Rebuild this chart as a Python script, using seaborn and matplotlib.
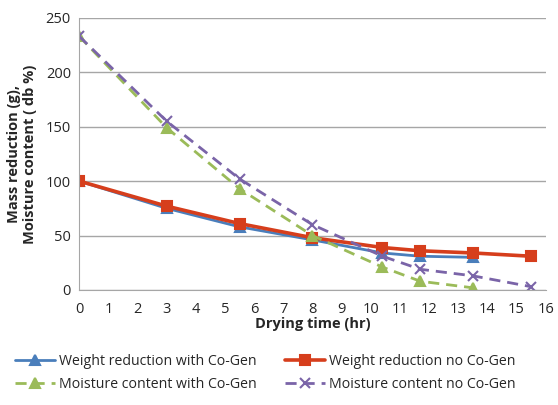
import numpy as np
import matplotlib.pyplot as plt
import pandas as pd
import seaborn as sns

# drying time (hr) and values
t_with = [0, 3, 5.5, 8, 10.4, 11.7, 13.5]
t_no = [0, 3, 5.5, 8, 10.4, 11.7, 13.5, 15.5]
weight_with = [100, 75, 58, 46, 34, 31, 30]
weight_no = [100, 77, 61, 48, 39, 36, 34, 31]
moist_with = [233, 149, 93, 50, 21, 8, 2]
moist_no = [233, 155, 102, 60, 31, 19, 13, 3]

labels = ['Weight reduction with Co-Gen', 'Weight reduction no Co-Gen',
          'Moisture content with Co-Gen', 'Moisture content no Co-Gen']

sns.set_style('white')
plt.rcParams['font.family'] = ['Open Sans', 'DejaVu Sans']

fig = plt.figure(figsize=(5.58, 4.05), dpi=100)
ax = fig.add_axes([0.142, 0.284, 0.836, 0.672])

series = [
    (t_with, weight_with, labels[0], '#4A7EBB', '-', '^', 2.0),
    (t_no, weight_no, labels[1], '#D63E1C', '-', 's', 2.6),
    (t_with, moist_with, labels[2], '#9BBB59', (0, (4, 2.5)), '^', 2.0),
    (t_no, moist_no, labels[3], '#7A64A8', (0, (4, 2.5)), 'x', 2.0),
]
for t, v, lab, col, ls, mk, lw in series:
    df = pd.DataFrame({'t': t, 'v': v})
    sns.lineplot(data=df, x='t', y='v', ax=ax, color=col, linestyle=ls,
                 marker=mk, markersize=6.5, markeredgecolor=col,
                 markeredgewidth=1.5, linewidth=lw, label=lab)

ax.set_xlim(0, 16)
ax.set_ylim(0, 250)
ax.set_xticks(range(0, 17))
ax.set_yticks(range(0, 251, 50))
ax.yaxis.grid(True, color='#A6A6A6', linewidth=1)
ax.xaxis.grid(False)
for s in ['top', 'right']:
    ax.spines[s].set_visible(False)
for s in ['left', 'bottom']:
    ax.spines[s].set_color('#A6A6A6')
ax.tick_params(axis='x', direction='out', length=5, color='#A6A6A6',
               labelsize=10.5, pad=4)
ax.tick_params(axis='y', length=0, labelsize=10.5, pad=6)
ax.set_xlabel('Drying time (hr)', fontsize=10.5, fontweight='bold', labelpad=0)
ax.set_ylabel('Mass reduction (g),\nMoisture content ( db %)', fontsize=10.5,
              fontweight='bold', labelpad=6)

h, l = ax.get_legend_handles_labels()
order = [0, 2, 1, 3]
ax.legend([h[i] for i in order], [l[i] for i in order], ncol=2, frameon=False,
          loc='upper left', bbox_to_anchor=(-0.165, -0.19), fontsize=10.2,
          handlelength=2.8, columnspacing=2.0, labelspacing=0.55, handletextpad=0.3)

fig.savefig('out.png', dpi=100)
